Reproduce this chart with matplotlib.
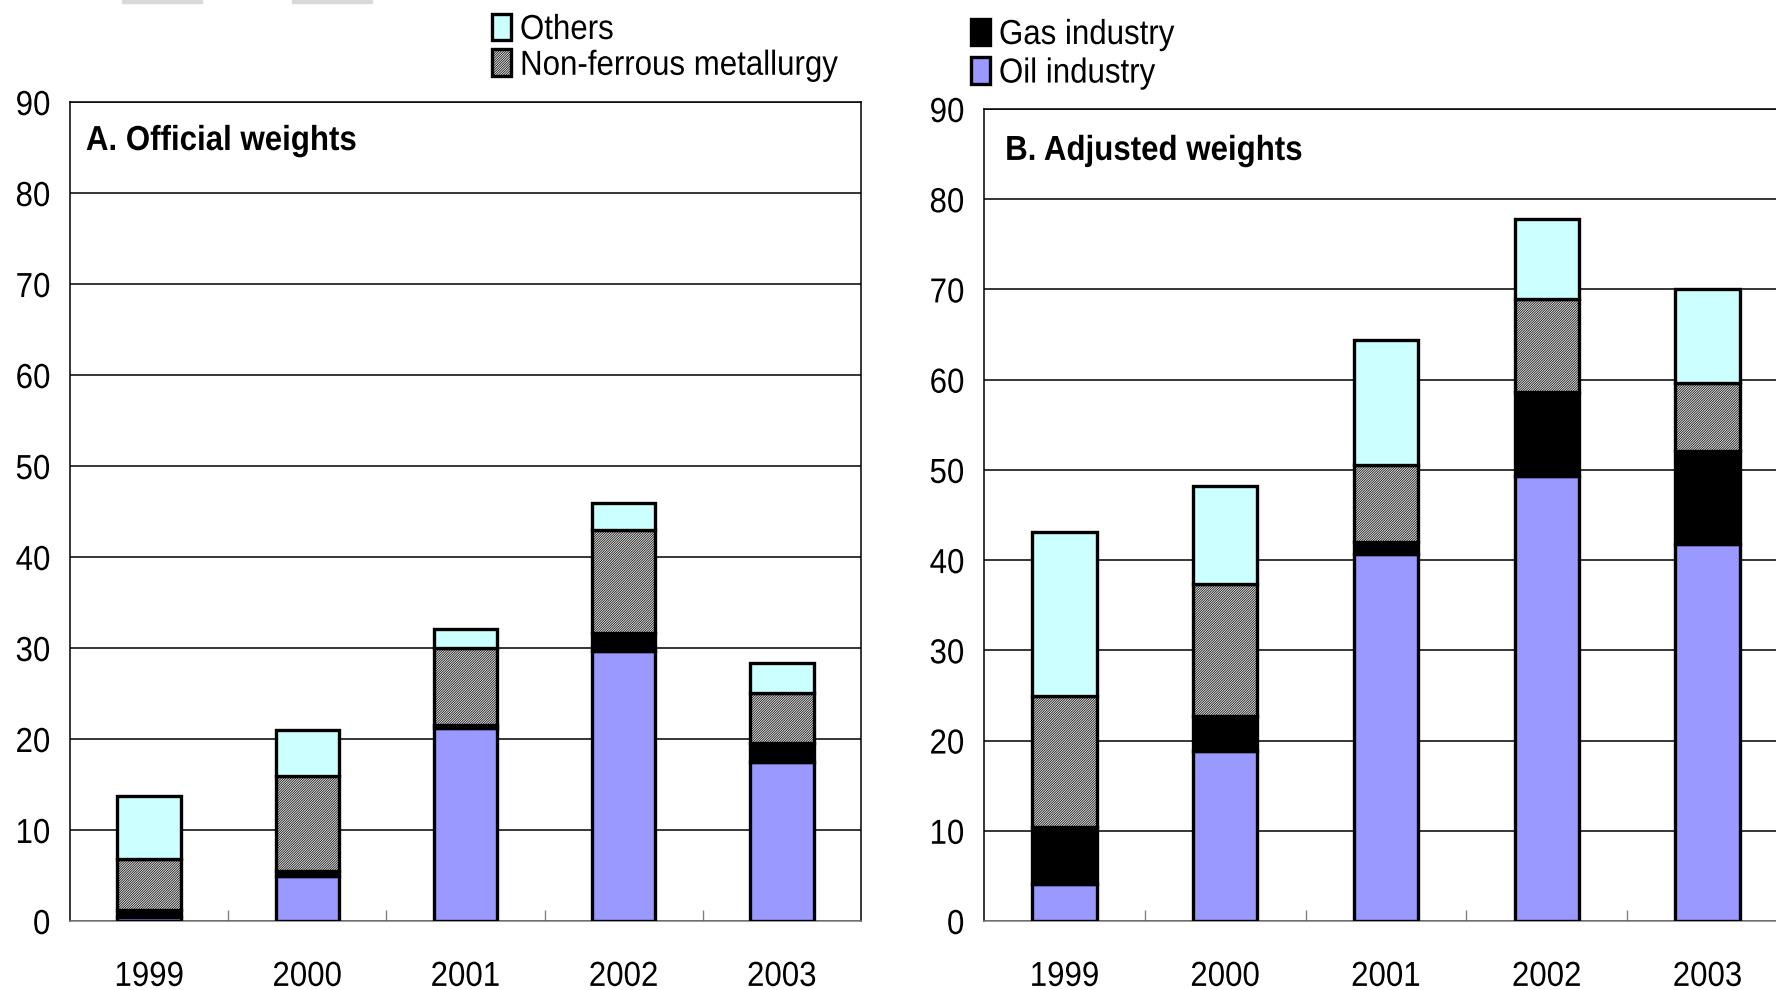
import numpy as np
import matplotlib
matplotlib.use('Agg')
import matplotlib.pyplot as plt
from matplotlib import font_manager, patheffects
from matplotlib.patches import Rectangle
from matplotlib.transforms import Affine2D

# narrow Arial-like face if available
names = {f.name for f in font_manager.fontManager.ttflist}
base = 'Liberation Sans Narrow' if 'Liberation Sans Narrow' in names else 'Liberation Sans'
plt.rcParams['font.family'] = [base, 'DejaVu Sans']
plt.rcParams['hatch.linewidth'] = 0.5
SQ = 1.0 if base.endswith('Narrow') else 0.9


class Squeeze(patheffects.AbstractPathEffect):
    """Draw text horizontally condensed about its left/center/right edge."""

    def __init__(self, sx, anchor='left'):
        super().__init__()
        self.sx = sx
        self.anchor = anchor

    def draw_path(self, renderer, gc, tpath, affine, rgbFace=None):
        ext = tpath.get_extents(affine)
        x0 = {'left': ext.x0, 'right': ext.x1, 'center': 0.5 * (ext.x0 + ext.x1)}[self.anchor]
        t = affine + Affine2D().translate(-x0, 0).scale(self.sx, 1).translate(x0, 0)
        renderer.draw_path(gc, tpath, t, rgbFace)


def squeeze(texts, anchor):
    for t in texts:
        t.set_path_effects([Squeeze(SQ, anchor)])


years = ['1999', '2000', '2001', '2002', '2003']
series = ['Oil industry', 'Gas industry', 'Non-ferrous metallurgy', 'Others']

# A. official weights, segment sizes
off_oil = [0.4, 5.0, 21.2, 29.7, 17.5]
off_gas = [0.8, 0.5, 0.3, 1.9, 2.1]
off_nonferrous = [5.6, 10.4, 8.5, 11.4, 5.5]
off_others = [6.9, 5.1, 2.1, 2.9, 3.3]

# B. adjusted weights, segment sizes
adj_oil = [4.1, 18.8, 40.7, 49.3, 41.8]
adj_gas = [6.3, 3.9, 1.3, 9.3, 10.3]
adj_nonferrous = [14.5, 14.6, 8.5, 10.3, 7.5]
adj_others = [18.2, 10.9, 13.9, 8.9, 10.5]

styles = {
    'Oil industry': dict(color='#9999ff'),
    'Gas industry': dict(color='black'),
    'Non-ferrous metallurgy': dict(color='#e4e4e4', hatch='/' * 14),
    'Others': dict(color='#ccffff'),
}

fig = plt.figure(figsize=(17.76, 9.90), dpi=100)

# scraps along the top edge
for x0 in (122, 292):
    fig.patches.append(Rectangle((x0 / 1776, 1 - 3 / 990), 80 / 1776, 3 / 990,
                                 transform=fig.transFigure, color='#d9d9d9'))

ax1 = fig.add_axes([70 / 1776, 69 / 990, 791 / 1776, 819 / 990])
ax2 = fig.add_axes([984 / 1776, 69 / 990, 804 / 1776, 812 / 990])

panels = [
    (ax1, 'A. Official weights', [off_oil, off_gas, off_nonferrous, off_others], (0.020, 0.953)),
    (ax2, 'B. Adjusted weights', [adj_oil, adj_gas, adj_nonferrous, adj_others], (0.026, 0.949)),
]

x = np.arange(len(years))
bars = {}
for ax, title, data, tpos in panels:
    bottom = np.zeros(len(years))
    for name, vals in zip(series, data):
        bars[name] = ax.bar(x, vals, 0.40, bottom=bottom, edgecolor='black',
                            linewidth=2.4, label=name, zorder=3, **styles[name])
        bottom += np.array(vals)
    ax.set_xlim(-0.5, 4.5)
    ax.set_ylim(0, 90)
    ax.set_yticks(range(0, 91, 10))
    ax.yaxis.grid(True, color='black', linewidth=1.1, zorder=0)
    ax.set_axisbelow(True)
    ax.set_xticks(x)
    ax.set_xticklabels(years)
    ax.set_xticks(np.arange(0.5, 4.5, 1), minor=True)
    ax.tick_params(axis='x', which='major', length=0, pad=28, labelsize=25)
    ax.tick_params(axis='x', which='minor', length=8, direction='in', color='#808080', width=1)
    ax.tick_params(axis='y', length=0, pad=14, labelsize=25)
    for s in ax.spines.values():
        s.set_linewidth(1.1)
    ax.spines['bottom'].set_color('#808080')
    ttl = ax.text(tpos[0], tpos[1], title, transform=ax.transAxes, fontsize=25,
                  fontweight='bold', va='center', ha='left')
    squeeze([ttl], 'left')
    squeeze(ax.get_xticklabels(), 'center')
    squeeze(ax.get_yticklabels(), 'right')

leg_kw = dict(frameon=False, fontsize=25, handlelength=0.55, handleheight=0.8,
              handletextpad=0.25, borderaxespad=0, borderpad=0)
leg1 = fig.legend([bars['Others'], bars['Non-ferrous metallurgy']],
                  ['Others', 'Non-ferrous metallurgy'], labelspacing=0.08,
                  loc='upper left', bbox_to_anchor=(492 / 1776, 1 - 13 / 990), **leg_kw)
leg2 = fig.legend([bars['Gas industry'], bars['Oil industry']],
                  ['Gas industry', 'Oil industry'], labelspacing=0.16,
                  loc='upper left', bbox_to_anchor=(971 / 1776, 1 - 18 / 990), **leg_kw)
squeeze(leg1.get_texts() + leg2.get_texts(), 'left')

fig.savefig('out.png', dpi=100)
